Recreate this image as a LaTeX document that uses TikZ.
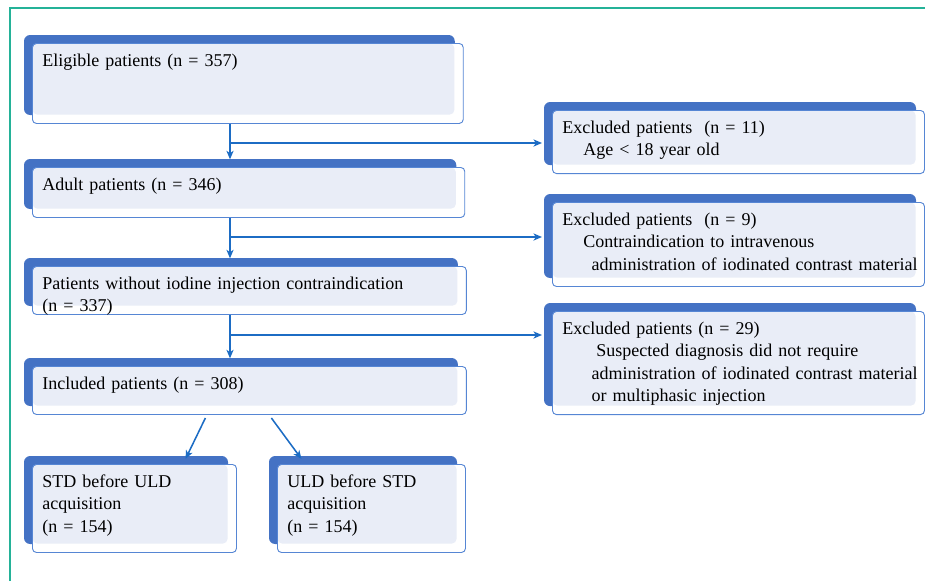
\documentclass[tikz,border=0pt]{standalone}
\usepackage{fontspec}
\setmainfont{Liberation Serif}
\usetikzlibrary{arrows.meta,backgrounds}

\definecolor{shadeblue}{RGB}{68,114,196}
\definecolor{fillblue}{RGB}{233,237,247}
\definecolor{edgeblue}{RGB}{86,134,212}
\definecolor{arrowblue}{RGB}{28,108,196}
\definecolor{frameteal}{RGB}{36,178,152}

\tikzset{
  flowbox/.style 2 args={draw=edgeblue, line width=0.6pt, fill=white, rounded corners=2.6pt,
    anchor=north west, align=left, inner xsep=6.5pt, inner ysep=0pt,
    text width=#1, text height=15pt, text depth=#2,
    font=\fontsize{11.7}{14.5}\selectfont,
    path picture={\fill[fillblue, rounded corners=3pt] (path picture bounding box.north west)
      rectangle ([xshift=-5.8pt,yshift=5.8pt]path picture bounding box.south east);}},
  flow/.style={draw=arrowblue, line width=1pt, -{Stealth[length=5.5pt,width=4.6pt,inset=1.5pt]}}
}

\begin{document}
\begin{tikzpicture}[x=0.65pt, y=-0.65pt]
    \useasboundingbox (0,0) rectangle (925,581);
    \draw[frameteal, line width=1.3pt] (10,581) -- (10,8) -- (925,8);

    % main column
    \node[flowbox={267pt}{37pt}] (elig) at (32,43) {Eligible patients (n = 357)};
    \node[flowbox={268pt}{17.5pt}] (adult) at (32,167) {Adult patients (n = 346)};
    \node[flowbox={269pt}{16.2pt}] (noiod) at (32,266) {Patients without iodine injection contraindication\\(n = 337)};
    \node[flowbox={269pt}{16.2pt}] (incl) at (32,366) {Included patients (n = 308)};
    \node[flowbox={119.6pt}{42.2pt}] (stdfirst) at (32,464) {STD before ULD\\acquisition\\(n = 154)};
    \node[flowbox={109.2pt}{42.2pt}] (uldfirst) at (277,464) {ULD before STD\\acquisition\\(n = 154)};

    % exclusions
    \node[flowbox={228.8pt}{26pt}] (exage) at (552,110) {Excluded patients\ \ (n = 11)\\\hspace*{13.6pt}Age < 18 year old};
    \node[flowbox={228.8pt}{39.6pt}] (excontra) at (552,202) {Excluded patients\ \ (n = 9)\\\hspace*{13.6pt}Contraindication to intravenous\\\hspace*{18.9pt}\mbox{administration of iodinated contrast material}};
    \node[flowbox={228.8pt}{52pt}] (exdiag) at (552,311) {Excluded patients (n = 29)\\\hspace*{22pt}Suspected diagnosis did not require\\\hspace*{18.9pt}\mbox{administration of iodinated contrast material}\\\hspace*{18.9pt}or multiphasic injection};

    % dark tab behind each box
    \begin{scope}[on background layer]
        \foreach \b in {elig,adult,noiod,incl,stdfirst,uldfirst,exage,excontra,exdiag}
            \fill[shadeblue, rounded corners=4pt] ([xshift=-5.2pt,yshift=5.2pt]\b.north west)
                rectangle ([xshift=-5.8pt,yshift=5.8pt]\b.south east);
    \end{scope}

    \coordinate (j1) at (230,143);
    \coordinate (j2) at (230,237);
    \coordinate (j3) at (230,335);

    \draw[flow, shorten >=5pt] (elig.south -| j1) -- (adult.north -| j1);
    \draw[flow, shorten >=6.5pt] (j1) -- (j1 -| exage.west);
    \draw[flow, shorten >=5pt] (adult.south -| j2) -- (noiod.north -| j2);
    \draw[flow, shorten >=6.5pt] (j2) -- (j2 -| excontra.west);
    \draw[flow, shorten >=5pt] (noiod.south -| j3) -- (incl.north -| j3);
    \draw[flow, shorten >=6.5pt] (j3) -- (j3 -| exdiag.west);

    \draw[flow] ([xshift=-28.6pt,yshift=-2pt]incl.south) -- ([xshift=33.2pt,yshift=3.3pt]stdfirst.north);
    \draw[flow] ([xshift=14.3pt,yshift=-2pt]incl.south) -- ([xshift=-45.5pt,yshift=3.3pt]uldfirst.north);
\end{tikzpicture}
\end{document}
